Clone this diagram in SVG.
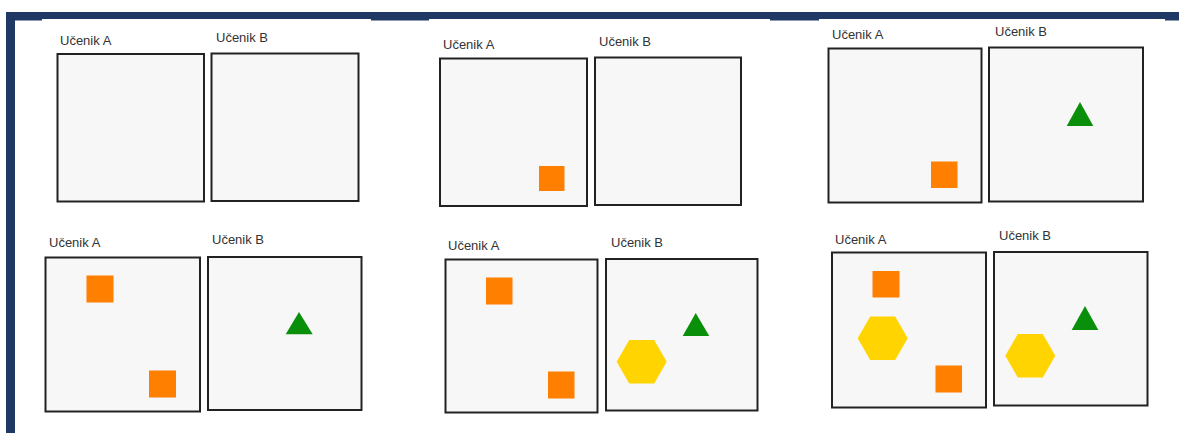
<svg xmlns="http://www.w3.org/2000/svg" width="1179" height="433" viewBox="0 0 1179 433">
<style>
.box{fill:#f7f7f7;stroke:#222;stroke-width:2}
.lbl{font-family:"Liberation Sans",Arial,sans-serif;font-size:13px;fill:#333}
.sq{fill:#ff7f00}
.tri{fill:#0a8f0a}
.hex{fill:#ffd400}
.nav{fill:#1f3864}
</style>
<defs>
<polygon id="hx" points="-25,0 -12.5,-21.7 12.5,-21.7 25,0 12.5,21.7 -12.5,21.7"/>
</defs>
<rect width="1179" height="433" fill="#fff"/>
<g id="frame">
<rect class="nav" x="6" y="12" width="1173" height="7"/>
<rect class="nav" x="6" y="12" width="9" height="421"/>
<rect class="nav" x="15" y="19" width="27" height="1.5"/>
<rect class="nav" x="371" y="19" width="58" height="1.5"/>
<rect class="nav" x="770" y="19" width="49" height="1.5"/>
<rect class="nav" x="1165" y="19" width="14" height="1.5"/>
</g>
<g id="panel1">
<text class="lbl" x="60" y="45">Učenik A</text>
<text class="lbl" x="216" y="42">Učenik B</text>
<rect class="box" x="57.5" y="54" width="146.5" height="147.5"/>
<rect class="box" x="211.5" y="53.5" width="147" height="147.5"/>
</g>
<g id="panel2">
<text class="lbl" x="443" y="48.5">Učenik A</text>
<text class="lbl" x="599" y="46">Učenik B</text>
<rect class="box" x="440" y="58.5" width="147" height="147.5"/>
<rect class="box" x="595" y="57.5" width="146" height="147.5"/>
<rect class="sq" x="539" y="166" width="25.5" height="25"/>
</g>
<g id="panel3">
<text class="lbl" x="832" y="38.5">Učenik A</text>
<text class="lbl" x="995" y="36">Učenik B</text>
<rect class="box" x="828.5" y="48.5" width="153" height="154"/>
<rect class="box" x="989" y="47.5" width="154" height="154"/>
<rect class="sq" x="931" y="161.5" width="26.5" height="26.5"/>
<polygon class="tri" points="1080,102 1093.3,126 1066.7,126"/>
</g>
<g id="panel4">
<text class="lbl" x="49" y="246.5">Učenik A</text>
<text class="lbl" x="212" y="244">Učenik B</text>
<rect class="box" x="45.5" y="257.5" width="154.5" height="154"/>
<rect class="box" x="208" y="257" width="153.5" height="153"/>
<rect class="sq" x="86.5" y="275.5" width="27" height="27"/>
<rect class="sq" x="149" y="370.5" width="27" height="27"/>
<polygon class="tri" points="299,312 312.7,334.3 285.7,334.3"/>
</g>
<g id="panel5">
<text class="lbl" x="448" y="250">Učenik A</text>
<text class="lbl" x="611" y="246.5">Učenik B</text>
<rect class="box" x="445.5" y="259.5" width="152" height="153"/>
<rect class="box" x="606" y="259" width="151.5" height="151.5"/>
<rect class="sq" x="486" y="277.5" width="26.5" height="27"/>
<rect class="sq" x="548" y="371.5" width="26.5" height="27"/>
<polygon class="tri" points="695.7,313 709.3,336 682.7,336"/>
<use href="#hx" class="hex" x="641.7" y="361.7"/>
</g>
<g id="panel6">
<text class="lbl" x="835" y="243.5">Učenik A</text>
<text class="lbl" x="999" y="240">Učenik B</text>
<rect class="box" x="832" y="252.5" width="154" height="155"/>
<rect class="box" x="994" y="252" width="153.5" height="153.5"/>
<rect class="sq" x="872.5" y="271" width="27" height="26.5"/>
<rect class="sq" x="935.5" y="365.5" width="26.5" height="27"/>
<use href="#hx" class="hex" x="882.7" y="338.2"/>
<use href="#hx" class="hex" x="1030.3" y="355.8"/>
<polygon class="tri" points="1085,306 1098.3,330 1071.7,330"/>
</g>
<g id="connectors"></g>
</svg>
